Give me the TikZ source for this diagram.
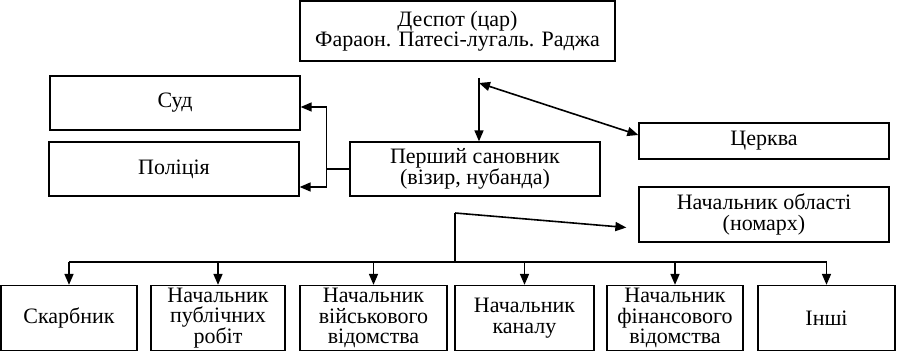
\documentclass[tikz,border=0pt]{standalone}
\usepackage{fontspec}
\setmainfont{Liberation Serif}
\usepackage{tikz}
\usetikzlibrary{arrows.meta, positioning}

\begin{document}
\begin{tikzpicture}[
        x=1pt, y=-1pt,
        box/.style={rectangle, draw, line width=1.3pt, inner sep=0pt, align=center, font=\fontsize{22}{20.5}\selectfont},
        arr/.style={-{Triangle[length=11pt, width=9pt]}, line width=1.6pt},
        link/.style={line width=1.3pt},
    ]
        \useasboundingbox (0,0) rectangle (897,352);

        % Top: ruler and his court
        \node[box, minimum width=315pt, minimum height=60pt] (despot) at (457.5,31) {Деспот (цар)\\Фараон. Патесі-лугаль. Раджа};
        \node[box, minimum width=250pt, minimum height=54pt] (sud) at (175,103) {Суд};
        \node[box, minimum width=250pt, minimum height=54pt] (police) at (174,169) {Поліція};
        \node[box, minimum width=250pt, minimum height=54pt] (vizir) at (475,169) {Перший сановник\\(візир, нубанда)};
        \node[box, minimum width=250pt, minimum height=36pt] (church) at (764,141) {Церква};
        \node[box, minimum width=250pt, minimum height=55pt] (nomarch) at (764,214.5) {Начальник області\\(номарх)};

        % Bottom row: officials
        \node[box, minimum width=136pt, minimum height=65pt] (skarb) at (69,318) {Скарбник};
        \node[box, minimum width=134pt, minimum height=65pt] (works) at (218,318) {Начальник\\публічних\\робіт};
        \node[box, minimum width=147pt, minimum height=65pt] (army) at (373.5,318) {Начальник\\військового\\відомства};
        \node[box, minimum width=139pt, minimum height=65pt] (canal) at (524.5,318) {Начальник\\каналу};
        \node[box, minimum width=136pt, minimum height=65pt] (fin) at (675,318) {Начальник\\фінансового\\відомства};
        \node[box, minimum width=137pt, minimum height=65pt] (other) at (826.5,318) {Інші};

        % Arrows from the ruler
        \coordinate (top) at (479,78);
        \draw[arr] (top) -- (top |- vizir.north);
        \draw[arr, {Triangle[length=11pt, width=9pt]}-{Triangle[length=11pt, width=9pt]}] ([yshift=-5pt]top) -- ([yshift=6pt]church.west);

        % Vizir to court and police
        \draw[link] (vizir.west) -- ++(-23,0) coordinate (brk);
        \draw[arr] (brk) |- ([yshift=-4pt]sud.east);
        \draw[arr] (brk) |- ([yshift=-18pt]police.east);

        % Bus to officials and nomarch
        \coordinate (bus) at (455,262);
        \coordinate (fork) at (455,213);
        \draw[link] (bus) -- (fork);
        \draw[arr] (fork) -- ([xshift=-12pt, yshift=-13pt]nomarch.west);
        \draw[link] (skarb.north |- bus) -- (other.north |- bus);
        \foreach \b in {skarb, works, army, canal, fin, other}
            \draw[arr] (\b.north |- bus) -- (\b.north);
    \end{tikzpicture}
\end{document}
